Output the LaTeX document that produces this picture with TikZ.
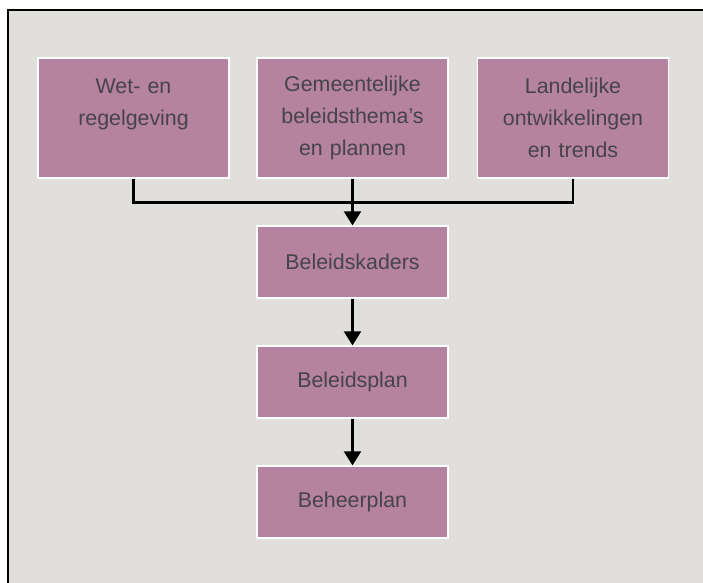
\documentclass[tikz,border=0pt]{standalone}
\usepackage{fontspec}
\setmainfont{Liberation Sans}
\usepackage{xcolor}
\usetikzlibrary{arrows.meta}
\definecolor{kader}{RGB}{224,223,219}
\definecolor{paars}{RGB}{181,130,160}
\definecolor{tekst}{RGB}{70,68,72}
\tikzset{
    blok/.style={fill=paars,draw=white,line width=0.8pt,text=tekst,
        text width=4.5cm,align=center,minimum width=4.775cm,inner sep=0pt,
        font=\fontsize{15.2}{22.6}\selectfont},
    hoog/.style={blok,minimum height=3cm},
    laag/.style={blok,minimum height=1.8cm},
    lijn/.style={line width=1.7pt,black},
    pijl/.style={lijn,-{Triangle[length=10pt,width=12pt]}}
}
\begin{document}
\begin{tikzpicture}
    \clip (0,0) rectangle (17.575,14.575);
    \draw[line width=1.8pt,fill=kader] (0.2,14.325) rectangle (18,-1);

    \node[hoog] (wet) at (3.3375,11.625) {Wet- en\\regelgeving\\~};
    \node[hoog] (gemeente) at (8.8125,11.625) {Gemeentelijke\\beleidsthema's\\en plannen};
    \node[hoog] (landelijk) at (14.325,11.625) {Landelijke\\ontwikkelingen\\en trends};

    \node[laag] (kaders) at (8.8125,8.025) {Beleidskaders};
    \node[laag] (plan) at (8.8125,5.025) {Beleidsplan};
    \node[laag] (beheer) at (8.8125,2.025) {Beheerplan};

    \draw[lijn] (wet.south) -- ++(0,-0.6) -| (landelijk.south);
    \draw[pijl] (gemeente.south) -- (kaders.north);
    \draw[pijl] (kaders.south) -- (plan.north);
    \draw[pijl] (plan.south) -- (beheer.north);
\end{tikzpicture}
\end{document}
